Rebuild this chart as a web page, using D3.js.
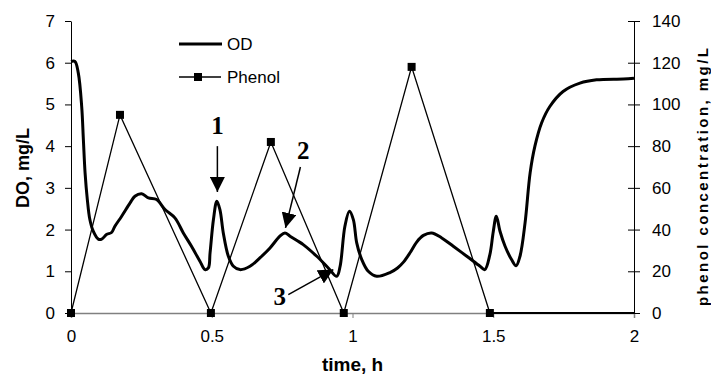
<!DOCTYPE html>
<html>
<head>
<meta charset="utf-8">
<script src="https://cdn.jsdelivr.net/npm/d3@7"></script>
<style>
  body { margin: 0; background: #fff; }
  svg { display: block; }
</style>
</head>
<body>
<div id="chart"></div>
<script>
// DO curve (left axis)
var odTime = [0, 0.014, 0.026, 0.038, 0.044, 0.050, 0.058, 0.067, 0.079, 0.097, 0.109, 0.126, 0.144, 0.156, 0.180, 0.210, 0.227, 0.251, 0.275, 0.304, 0.334, 0.369, 0.399, 0.428, 0.458, 0.476, 0.488, 0.494, 0.506, 0.518, 0.529, 0.541, 0.559, 0.577, 0.600, 0.636, 0.671, 0.707, 0.742, 0.760, 0.778, 0.807, 0.825, 0.873, 0.914, 0.944, 0.956, 0.973, 0.989, 1.003, 1.015, 1.033, 1.056, 1.086, 1.133, 1.160, 1.181, 1.205, 1.228, 1.252, 1.281, 1.317, 1.358, 1.406, 1.453, 1.470, 1.488, 1.500, 1.511, 1.524, 1.542, 1.565, 1.581, 1.595, 1.613, 1.631, 1.648, 1.672, 1.701, 1.748, 1.808, 1.867, 1.962, 2.0]
var odValue = [6.03, 6.03, 5.75, 4.95, 4.15, 3.36, 2.72, 2.24, 1.96, 1.77, 1.77, 1.88, 1.93, 2.08, 2.32, 2.64, 2.80, 2.86, 2.76, 2.72, 2.48, 2.28, 1.92, 1.60, 1.24, 1.04, 1.08, 1.44, 2.24, 2.68, 2.48, 1.92, 1.36, 1.12, 1.04, 1.12, 1.32, 1.56, 1.84, 1.92, 1.84, 1.72, 1.64, 1.36, 1.08, 0.88, 1.12, 2.08, 2.44, 2.24, 1.68, 1.28, 1.00, 0.88, 0.97, 1.08, 1.22, 1.45, 1.70, 1.86, 1.92, 1.80, 1.60, 1.36, 1.12, 1.04, 1.40, 1.95, 2.32, 1.96, 1.60, 1.28, 1.13, 1.36, 2.16, 3.36, 4.00, 4.56, 4.95, 5.31, 5.51, 5.59, 5.61, 5.63]

// phenol (right axis)
var phenolTime = [0, 0.174, 0.497, 0.710, 0.969, 1.210, 1.488, 2.0]
var phenolValue = [0, 95, 0, 82, 0, 118, 0, 0]
var phenolMarker = [true, true, true, true, true, true, true, false]

var xTicks = [0, 0.5, 1, 1.5, 2]
var doTicks = [0, 1, 2, 3, 4, 5, 6, 7]
var phTicks = [0, 20, 40, 60, 80, 100, 120, 140]

// annotations: label, label pos (time, DO), arrow from, arrow to
var notes = [
  {label: "1", lx: 0.520, ly: 4.3, x1: 0.520, y1: 4.0, x2: 0.520, y2: 2.9},
  {label: "2", lx: 0.825, ly: 3.68, x1: 0.815, y1: 3.5, x2: 0.762, y2: 2.04},
  {label: "3", lx: 0.742, ly: 0.2, x1: 0.772, y1: 0.44, x2: 0.932, y2: 1.04}
]

var W = 711, H = 376
var margin = {top: 21, right: 77, bottom: 63, left: 71}
var width = W - margin.left - margin.right
var height = H - margin.top - margin.bottom

var svg = d3.select("#chart")
  .append("svg")
    .attr("width", W)
    .attr("height", H)
    .style("font-family", "'Liberation Sans', Arial, sans-serif")
  .append("g")
    .attr("transform", "translate(" + margin.left + "," + margin.top + ")")

var x = d3.scaleLinear().domain([0, 2]).range([0, width])
var yL = d3.scaleLinear().domain([0, 7]).range([height, 0])
var yR = d3.scaleLinear().domain([0, 140]).range([height, 0])

svg.append("defs").append("marker")
  .attr("id", "head")
  .attr("viewBox", "0 0 10 10")
  .attr("refX", 10).attr("refY", 5)
  .attr("markerWidth", 15).attr("markerHeight", 15)
  .attr("markerUnits", "userSpaceOnUse")
  .attr("orient", "auto")
  .append("path").attr("d", "M0,0 L10,5 L0,10 Z").attr("fill", "#000")

// x axis (grey line)
var xAxis = svg.append("g")
  .attr("transform", "translate(0," + height + ")")
  .call(d3.axisBottom(x).tickValues(xTicks).tickSize(5).tickPadding(12).tickFormat(d3.format("")))
xAxis.select(".domain").attr("stroke", "#808080").attr("stroke-width", 1.5)
xAxis.selectAll(".tick line").attr("stroke", "#808080")
xAxis.selectAll("text").style("font-size", "17px").attr("fill", "#000")

// left axis
var lAxis = svg.append("g")
  .call(d3.axisLeft(yL).tickValues(doTicks).tickSize(6).tickPadding(10).tickSizeOuter(0).tickFormat(d3.format("d")))
lAxis.select(".domain").attr("stroke", "#000")
lAxis.selectAll("text").style("font-size", "17px").attr("fill", "#000")

// right axis, ticks cross the line
var rAxis = svg.append("g")
  .attr("transform", "translate(" + width + ",0)")
  .call(d3.axisRight(yR).tickValues(phTicks).tickSize(6).tickPadding(12).tickSizeOuter(0))
rAxis.select(".domain").attr("stroke", "#000")
rAxis.selectAll(".tick line").attr("x1", -6)
rAxis.selectAll("text").style("font-size", "17px").attr("fill", "#000")

// axis titles
svg.append("text")
  .attr("text-anchor", "middle")
  .attr("x", width / 2)
  .attr("y", height + 58)
  .style("font-size", "19px").style("font-weight", "bold")
  .text("time, h")

svg.append("text")
  .attr("text-anchor", "middle")
  .attr("transform", "rotate(-90)")
  .attr("x", -(168 - margin.top))
  .attr("y", -margin.left + 29)
  .style("font-size", "18px").style("font-weight", "bold")
  .text("DO, mg/L")

svg.append("text")
  .attr("text-anchor", "middle")
  .attr("transform", "rotate(-90)")
  .attr("x", -(177 - margin.top))
  .attr("y", width + 74)
  .attr("textLength", 258).attr("lengthAdjust", "spacing")
  .style("font-size", "15px").style("font-weight", "bold")
  .text("phenol concentration, mg/L")

// phenol line + markers
var phenol = phenolTime.map(function(t, i) { return {t: t, v: phenolValue[i], m: phenolMarker[i]} })
svg.append("path")
  .datum(phenol)
  .attr("fill", "none")
  .attr("stroke", "#000")
  .attr("stroke-width", 1.3)
  .attr("d", d3.line().x(function(d) { return x(d.t) }).y(function(d) { return yR(d.v) }))
svg.append("path")
  .datum(phenol.slice(-2))
  .attr("fill", "none")
  .attr("stroke", "#000")
  .attr("stroke-width", 2.2)
  .attr("d", d3.line().x(function(d) { return x(d.t) }).y(function(d) { return yR(d.v) }))
svg.selectAll(".pm")
  .data(phenol.filter(function(d) { return d.m }))
  .enter().append("rect")
    .attr("class", "pm")
    .attr("x", function(d) { return x(d.t) - 4 })
    .attr("y", function(d) { return yR(d.v) - 4 })
    .attr("width", 8).attr("height", 8)
    .attr("fill", "#000")

// DO curve
var od = odTime.map(function(t, i) { return {t: t, v: odValue[i]} })
svg.append("path")
  .datum(od)
  .attr("fill", "none")
  .attr("stroke", "#000")
  .attr("stroke-width", 3)
  .attr("stroke-linejoin", "round")
  .attr("d", d3.line().curve(d3.curveCatmullRom).x(function(d) { return x(d.t) }).y(function(d) { return yL(d.v) }))

// legend
var leg = svg.append("g").attr("transform", "translate(108,23)")
leg.append("line").attr("x1", 0).attr("x2", 43).attr("y1", 0).attr("y2", 0)
  .attr("stroke", "#000").attr("stroke-width", 3)
leg.append("text").attr("x", 48).attr("y", 0).attr("dy", "0.35em")
  .style("font-size", "17px").text("OD")
leg.append("line").attr("x1", 0).attr("x2", 42).attr("y1", 33).attr("y2", 33)
  .attr("stroke", "#000").attr("stroke-width", 1.3)
leg.append("rect").attr("x", 15).attr("y", 29).attr("width", 8).attr("height", 8).attr("fill", "#000")
leg.append("text").attr("x", 48).attr("y", 33).attr("dy", "0.35em")
  .style("font-size", "17px").text("Phenol")

// numbered arrows
notes.forEach(function(n) {
  svg.append("text")
    .attr("x", x(n.lx)).attr("y", yL(n.ly))
    .attr("text-anchor", "middle")
    .style("font-family", "'Liberation Serif', 'Times New Roman', serif")
    .style("font-size", "25px").style("font-weight", "bold")
    .text(n.label)
  svg.append("line")
    .attr("x1", x(n.x1)).attr("y1", yL(n.y1))
    .attr("x2", x(n.x2)).attr("y2", yL(n.y2))
    .attr("stroke", "#000").attr("stroke-width", 1.5)
    .attr("marker-end", "url(#head)")
})
</script>
</body>
</html>
